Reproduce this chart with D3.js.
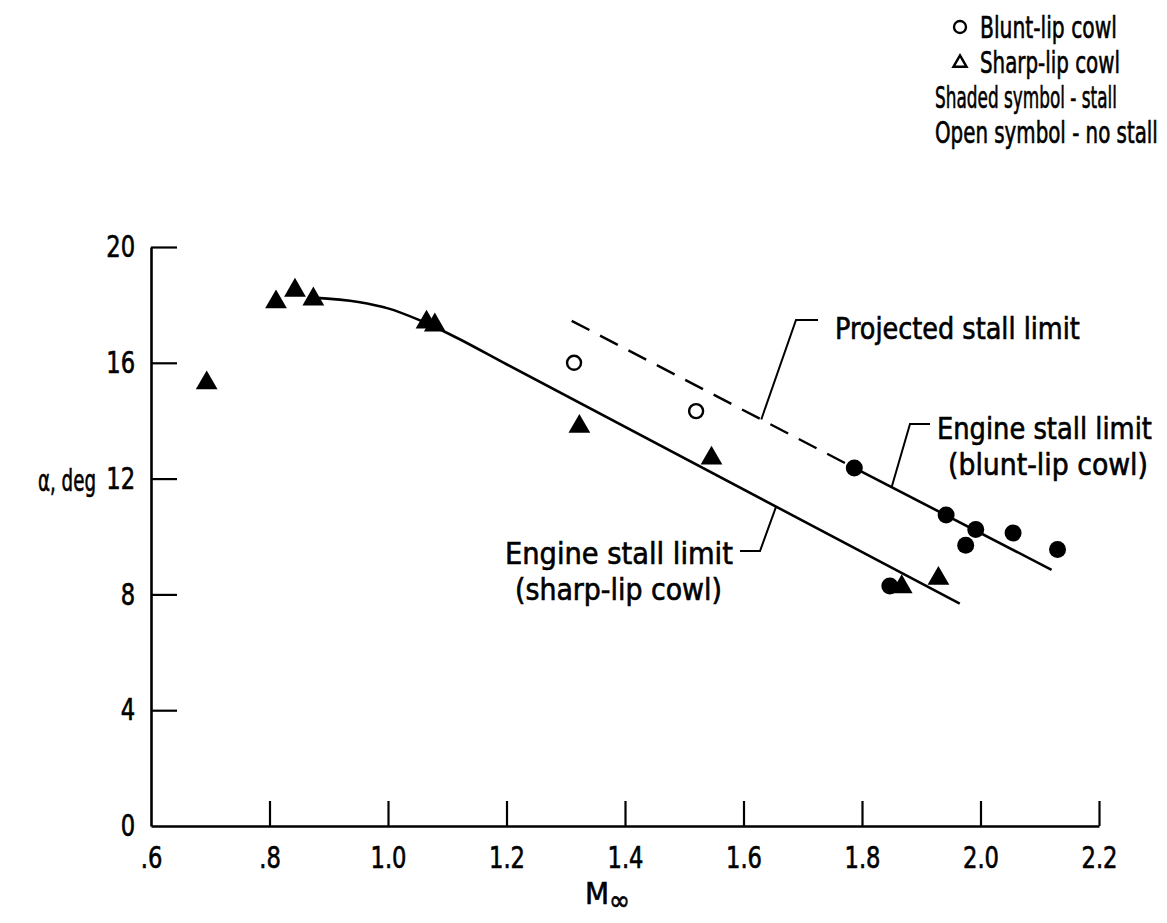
<!DOCTYPE html>
<html>
<head>
<meta charset="utf-8">
<script src="https://cdn.jsdelivr.net/npm/d3@7"></script>
<style>
  html, body { margin: 0; padding: 0; background: #fff; }
  svg text { font-family: "DejaVu Sans Condensed", "DejaVu Sans", sans-serif; font-stretch: condensed; fill: #000; stroke: #000; stroke-width: 0.6px; }
</style>
</head>
<body>
<svg id="chart" width="1167" height="923"></svg>
<script>
// Inlet stall boundary: angle of attack vs free-stream Mach number

// Sharp-lip cowl, stall points (shaded triangles)
const sharpMach  = [0.694, 0.811, 0.843, 0.874, 1.065, 1.079, 1.323, 1.546, 1.867, 1.929];
const sharpAlpha = [15.3, 18.1, 18.5, 18.2, 17.4, 17.3, 13.8, 12.7, 8.26, 8.55];

// Blunt-lip cowl, stall points (shaded circles)
const bluntStallMach  = [1.787, 1.942, 1.992, 1.975, 2.055, 2.130, 1.847];
const bluntStallAlpha = [12.37, 10.74, 10.24, 9.70, 10.12, 9.55, 8.29];

// Blunt-lip cowl, no-stall points (open circles)
const bluntOpenMach  = [1.314, 1.520];
const bluntOpenAlpha = [16.0, 14.33];

// Engine stall limit, sharp-lip cowl (faired curve)
const sharpLimitMach  = [0.874, 0.95, 1.0, 1.05, 1.10, 1.20, 1.965];
const sharpLimitAlpha = [18.25, 18.1, 17.88, 17.5, 17.03, 15.95, 7.68];

// Engine stall limit, blunt-lip cowl
const bluntLimitMach  = [1.787, 2.120];
const bluntLimitAlpha = [12.37, 8.85];

// Projected stall limit (dashed extension)
const projMach  = [1.310, 1.787];
const projAlpha = [17.45, 12.37];

// Axis ticks
const xTicks = [0.6, 0.8, 1.0, 1.2, 1.4, 1.6, 1.8, 2.0, 2.2];
const xTickLabels = [".6", ".8", "1.0", "1.2", "1.4", "1.6", "1.8", "2.0", "2.2"];
const yTicks = [0, 4, 8, 12, 16, 20];

const svg = d3.select("#chart");
const x = d3.scaleLinear().domain([0.6, 2.2]).range([151, 1099]);
const y = d3.scaleLinear().domain([0, 20]).range([826, 247]);

const zip = (a, b) => a.map((v, i) => [v, b[i]]);
const INK = "#000";
const FS = 30;

// Axes with inward-pointing ticks
const xAxis = d3.axisBottom(x)
  .tickValues(xTicks)
  .tickFormat((d, i) => xTickLabels[i])
  .tickSizeInner(-25).tickSizeOuter(0).tickPadding(21);
const gx = svg.append("g").attr("transform", `translate(0,${y(0)})`).call(xAxis);

const yAxis = d3.axisLeft(y)
  .tickValues(yTicks)
  .tickSizeInner(-26).tickSizeOuter(0).tickPadding(19);
const gy = svg.append("g").attr("transform", `translate(${x(0.6)},0)`).call(yAxis);

[gx, gy].forEach(g => {
  g.select(".domain").attr("stroke", INK).attr("stroke-width", 2.6);
  g.selectAll(".tick line").attr("stroke", INK).attr("stroke-width", 2.2);
  g.selectAll(".tick text").style("font-size", FS + "px").attr("fill", INK)
    .attr("transform", "scale(0.84,1)");
});
gx.selectAll(".tick").filter(d => d === 0.6).select("line").remove();
gy.selectAll(".tick").filter(d => d === 0).select("line").remove();

// Condensed label: natural text squeezed horizontally to a given width
function label(t) {
  const g = svg.append("g");
  const txt = g.append("text").style("font-size", (t.fs || FS) + "px").text(t.s);
  const natural = txt.node().getComputedTextLength();
  const sx = t.w / natural;
  g.attr("transform", `translate(${t.x},${t.y}) scale(${sx},1)`);
  return g;
}

// Axis titles
const xt = svg.append("text").attr("x", 585).attr("y", 904).style("font-size", "31px");
xt.append("tspan").text("M");
xt.append("tspan").attr("dy", 6).style("font-size", "28px").text("∞");

label({x: 38, y: 491, w: 58, s: "α,  deg"});

// Limit lines
const line = d3.line().x(d => x(d[0])).y(d => y(d[1]));
svg.append("path")
  .datum(zip(sharpLimitMach, sharpLimitAlpha))
  .attr("d", line.curve(d3.curveMonotoneX))
  .attr("fill", "none").attr("stroke", INK).attr("stroke-width", 2.6);

const straight = d3.line().x(d => x(d[0])).y(d => y(d[1]));
svg.append("path")
  .datum(zip(bluntLimitMach, bluntLimitAlpha))
  .attr("d", straight)
  .attr("fill", "none").attr("stroke", INK).attr("stroke-width", 2.6);

svg.append("path")
  .datum(zip(projMach, projAlpha))
  .attr("d", straight)
  .attr("fill", "none").attr("stroke", INK).attr("stroke-width", 2.4)
  .attr("stroke-dasharray", "20,12");

// Symbols
const tri = d3.symbol(d3.symbolTriangle, 205);
svg.append("g").selectAll("path")
  .data(zip(sharpMach, sharpAlpha))
  .join("path")
  .attr("d", tri)
  .attr("transform", d => `translate(${x(d[0])},${y(d[1])})`)
  .attr("fill", INK);

svg.append("g").selectAll("circle")
  .data(zip(bluntStallMach, bluntStallAlpha))
  .join("circle")
  .attr("cx", d => x(d[0])).attr("cy", d => y(d[1]))
  .attr("r", 8.5).attr("fill", INK);

svg.append("g").selectAll("circle")
  .data(zip(bluntOpenMach, bluntOpenAlpha))
  .join("circle")
  .attr("cx", d => x(d[0])).attr("cy", d => y(d[1]))
  .attr("r", 7).attr("fill", "#fff").attr("stroke", INK).attr("stroke-width", 2.4);

// Callouts: leader anchored on a line, elbow, short horizontal, then label
function callout(anchor, elbow, end, lines) {
  const pts = [[x(anchor[0]), y(anchor[1])], elbow, end];
  svg.append("path")
    .attr("d", d3.line()(pts))
    .attr("fill", "none").attr("stroke", INK).attr("stroke-width", 2);
  lines.forEach(label);
}

const projAt = m => projAlpha[1] + (projAlpha[0] - projAlpha[1]) * (m - projMach[1]) / (projMach[0] - projMach[1]);
const bluntAt = m => bluntLimitAlpha[0] + (bluntLimitAlpha[1] - bluntLimitAlpha[0]) * (m - bluntLimitMach[0]) / (bluntLimitMach[1] - bluntLimitMach[0]);
const sharpAt = m => sharpLimitAlpha[5] + (sharpLimitAlpha[6] - sharpLimitAlpha[5]) * (m - sharpLimitMach[5]) / (sharpLimitMach[6] - sharpLimitMach[5]);

callout([1.63, projAt(1.63)], [796, 320], [818, 320],
  [{x: 835, y: 339, w: 245, s: "Projected stall limit"}]);

callout([1.850, bluntAt(1.850)], [910, 424], [930, 424],
  [{x: 937, y: 439, w: 215, s: "Engine stall limit"},
   {x: 948, y: 475, w: 200, s: "(blunt-lip cowl)"}]);

callout([1.655, sharpAt(1.655)], [760, 551], [740, 551],
  [{x: 505, y: 564, w: 228, s: "Engine stall limit"},
   {x: 515, y: 600, w: 207, s: "(sharp-lip cowl)"}]);

// Legend
const lg = svg.append("g");
lg.append("circle").attr("cx", 960).attr("cy", 27).attr("r", 6)
  .attr("fill", "none").attr("stroke", INK).attr("stroke-width", 2.4);
lg.append("path").attr("d", d3.symbol(d3.symbolTriangle, 75)())
  .attr("transform", "translate(960,63)")
  .attr("fill", "none").attr("stroke", INK).attr("stroke-width", 2.4);
const legendRows = [
  {x: 980, y: 38, w: 137, s: "Blunt-lip cowl"},
  {x: 980, y: 73, w: 140, s: "Sharp-lip cowl"},
  {x: 935, y: 108, w: 182, s: "Shaded symbol - stall"},
  {x: 935, y: 143, w: 223, s: "Open symbol - no stall"}
];
legendRows.forEach(label);
</script>
</body>
</html>
